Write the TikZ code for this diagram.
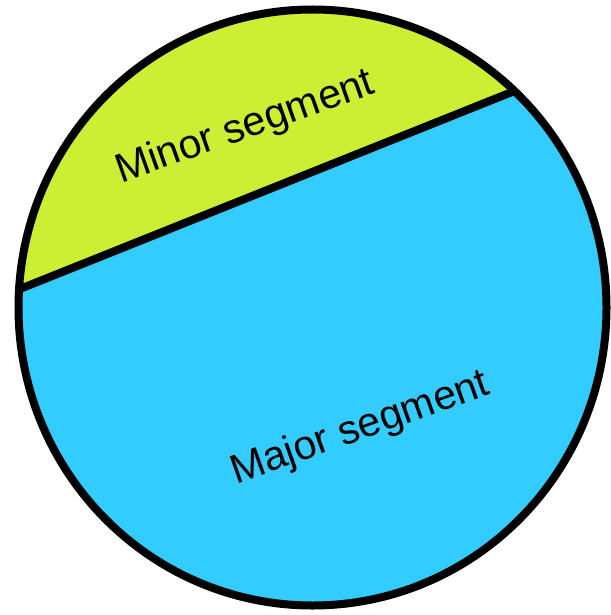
\documentclass[tikz,border=0pt]{standalone}
\usepackage{fontspec}
\setmainfont{Liberation Sans}
\usetikzlibrary{calc}
\definecolor{minorfill}{RGB}{204,238,51}
\definecolor{majorfill}{RGB}{51,204,255}
\begin{document}
\begin{tikzpicture}[x=1pt,y=-1pt,line width=8pt,
	seglabel/.style={font=\fontsize{41}{46}\selectfont,anchor=base,rotate=19.5}]
			\useasboundingbox (0,0) rectangle (610,615);
			\coordinate (o) at (312.5,307.5);
			\coordinate (p) at ($(o)+(183.5:294 and 298)$);
			\coordinate (q) at ($(o)+(313.4:294 and 298)$);
			\fill[minorfill] (p) arc[start angle=183.5,end angle=313.4,x radius=294,y radius=298] -- cycle;
			\fill[majorfill] (q) arc[start angle=313.4,end angle=543.5,x radius=294,y radius=298] -- cycle;
			\draw (o) ellipse[x radius=294,y radius=298];
			\draw (p) -- (q);
			\node[seglabel] (minor) at (249,138) {Minor segment};
			\node[seglabel] (major) at (364,439) {Major segment};
	\end{tikzpicture}
\end{document}
